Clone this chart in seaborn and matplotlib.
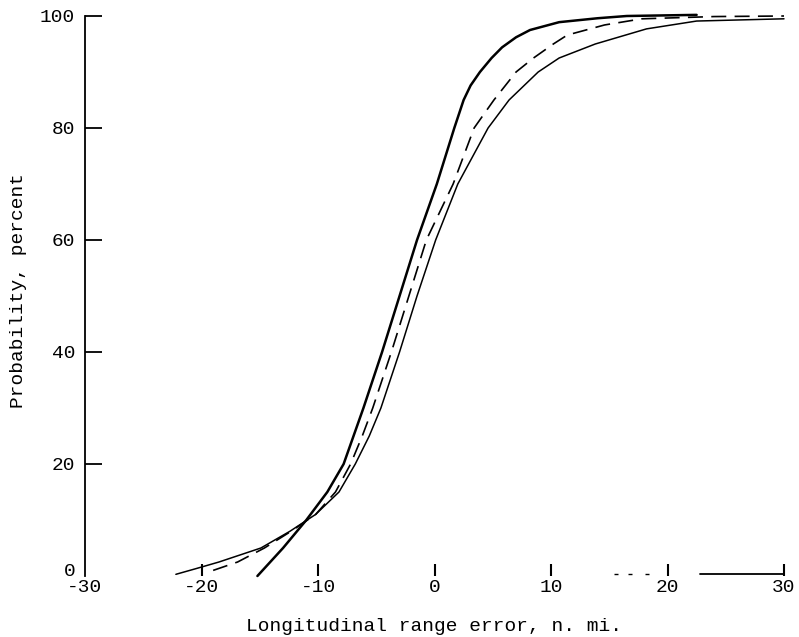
import matplotlib
matplotlib.use("Agg")
import matplotlib.pyplot as plt
import matplotlib.transforms as mtransforms
import seaborn as sns
import pandas as pd

# ---- data ----
heavy_x = [-15.2, -13.0, -11.0, -9.2, -7.8, -6.95, -6.1, -4.5, -3.0, -1.5, 0.2, 1.7, 2.5, 3.1, 3.9, 4.9, 5.8, 7.0, 8.2, 10.7, 14.0, 16.5, 22.5]
heavy_y = [0.0, 5.0, 10.0, 15.0, 20.0, 25.0, 30.0, 40.0, 50.0, 60.0, 70.0, 80.0, 85.0, 87.6, 90.0, 92.5, 94.4, 96.2, 97.5, 98.9, 99.6, 100.0, 100.2]

dashed_x = [-19.0, -16.9, -14.6, -12.3, -10.2, -8.5, -7.2, -6.2, -5.3, -3.7, -2.2, -0.7, 1.6, 3.4, 5.1, 7.0, 8.5, 10.2, 11.4, 14.6, 17.8, 24.0, 30.0]
dashed_y = [1.0, 2.5, 5.0, 8.0, 11.0, 15.0, 20.0, 25.0, 30.0, 40.0, 50.0, 60.0, 70.0, 80.0, 85.0, 90.0, 92.5, 95.0, 96.6, 98.4, 99.5, 99.9, 100.0]

thin_x = [-22.2, -20.5, -18.5, -14.9, -12.4, -10.2, -8.2, -6.8, -5.6, -4.6, -3.0, -1.5, 0.1, 2.0, 4.6, 6.4, 8.9, 10.7, 13.8, 18.2, 22.5, 30.0]
thin_y = [0.3, 1.3, 2.5, 5.0, 8.0, 11.0, 15.0, 20.0, 25.0, 30.0, 40.0, 50.0, 60.0, 70.0, 80.0, 85.0, 90.0, 92.5, 95.0, 97.7, 99.1, 99.5]

# remnants of the drawn baseline at the bottom right
base_seg_x = [22.8, 30.0]
base_seg_y = [0.3, 0.3]
base_dots_x = [15.6, 16.8, 18.2]
base_dots_y = [0.3, 0.3, 0.4]

x_ticks = [-30, -20, -10, 0, 10, 20, 30]
y_ticks = [0, 20, 40, 60, 80, 100]

sns.set_theme(style="white")
plt.rcParams['font.family'] = ['Liberation Mono', 'DejaVu Sans Mono']

fig = plt.figure(figsize=(7.99, 6.37), dpi=100)
ax = fig.add_axes([85/799, 1 - 576/637, (784 - 85)/799, (576 - 16)/637])

df_h = pd.DataFrame({"x": heavy_x, "y": heavy_y})
df_d = pd.DataFrame({"x": dashed_x, "y": dashed_y})
df_t = pd.DataFrame({"x": thin_x, "y": thin_y})

sns.lineplot(data=df_h, x="x", y="y", sort=False, estimator=None, ax=ax,
             color="black", linewidth=1.8, clip_on=False)
sns.lineplot(data=df_d, x="x", y="y", sort=False, estimator=None, ax=ax,
             color="black", linewidth=1.2, clip_on=False)
ax.lines[-1].set_dashes((9, 5))
sns.lineplot(data=df_t, x="x", y="y", sort=False, estimator=None, ax=ax,
             color="black", linewidth=1.1, clip_on=False)
for ln in ax.lines:
    ln.set_solid_joinstyle("round")
    ln.set_dash_joinstyle("round")

ax.plot(base_seg_x, base_seg_y, color="black", linewidth=1.3, clip_on=False)
ax.plot(base_dots_x, base_dots_y, linestyle="none", marker="_", markersize=3,
        markeredgewidth=1.0, color="black", clip_on=False)

ax.set_xlim(-30, 30)
ax.set_ylim(0, 100)
ax.set_xticks(x_ticks)
ax.set_yticks(y_ticks)
ax.set_xticklabels([str(v) for v in x_ticks])
ax.set_yticklabels([str(v) for v in y_ticks])

for s in ["top", "right", "bottom"]:
    ax.spines[s].set_visible(False)
ax.spines["left"].set_color("black")
ax.spines["left"].set_linewidth(1.3)

ax.tick_params(axis="y", direction="in", length=12, width=1.3, pad=7,
               labelsize=14, colors="black", left=True)
ax.tick_params(axis="x", direction="in", length=9, width=1.5, pad=2,
               labelsize=14, colors="black", bottom=True)
ax.yaxis.get_major_ticks()[0].tick1line.set_visible(False)
ax.xaxis.get_major_ticks()[0].tick1line.set_visible(False)

# lift the "0" label a little so it sits above "-30", as in the reference
zero_lbl = ax.get_yticklabels()[0]
zero_lbl.set_transform(zero_lbl.get_transform() +
                       mtransforms.ScaledTranslation(0, 5/72, fig.dpi_scale_trans))

ax.set_xlabel("Longitudinal range error, n. mi.", fontsize=14, labelpad=16, color="black")
ax.set_ylabel("Probability, percent", fontsize=14, labelpad=5, color="black")
ax.yaxis.set_label_coords(-0.083, 0.51)
ax.grid(False)
ax.set_facecolor("white")

fig.savefig("out.png", dpi=100, facecolor="white")
